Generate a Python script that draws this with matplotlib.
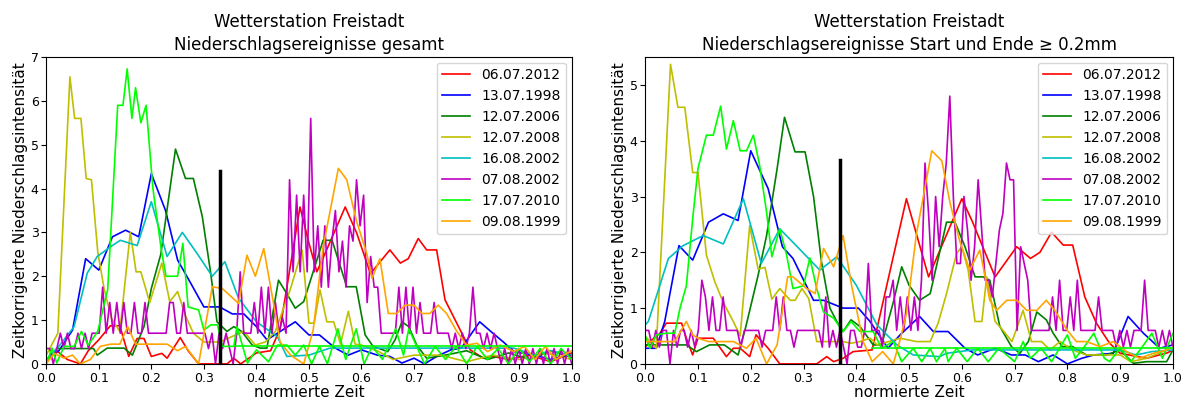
import numpy as np
import matplotlib
matplotlib.use("Agg")
import matplotlib.pyplot as plt

# --- event labels and colours (same order in both panels) ---
events = ["06.07.2012", "13.07.1998", "12.07.2006", "12.07.2008",
          "16.08.2002", "07.08.2002", "17.07.2010", "09.08.1999"]
colors = ["red", "blue", "green", "y", "c", "m", "lime", "orange"]

# ================= left panel: all events =================
l_red_x = [0, 0.02, 0.04, 0.065, 0.08, 0.1, 0.122, 0.14, 0.157, 0.173, 0.186, 0.2, 0.22, 0.23, 0.255,
           0.27, 0.29, 0.344, 0.357, 0.37, 0.4, 0.427, 0.445, 0.483, 0.499, 0.515, 0.53, 0.569, 0.591,
           0.617, 0.654, 0.674, 0.689, 0.708, 0.724, 0.743, 0.759, 0.788, 0.807, 0.832, 0.85, 0.88,
           0.92, 0.96, 1.0]
l_red_y = [0.1, 0.3, 0.1, 0.0, 0.3, 0.55, 0.87, 0.87, 0.17, 0.58, 0.58, 0.17, 0.24, 0.13, 0.6,
           0.3, 0.0, 0.0, 0.13, 0.0, 0.25, 0.3, 0.8, 3.58, 2.8, 2.1, 2.5, 3.58, 2.98,
           2.06, 2.6, 2.3, 2.4, 2.86, 2.6, 2.6, 1.46, 0.77, 0.32, 0.13, 0.17, 0.1,
           0.2, 0.05, 0.25]

l_blue_x = [0, 0.024, 0.05, 0.075, 0.1, 0.126, 0.151, 0.176, 0.2, 0.227, 0.25, 0.275, 0.3, 0.33,
            0.354, 0.376, 0.4, 0.42, 0.44, 0.474, 0.5, 0.52, 0.55, 0.575, 0.6, 0.63, 0.654, 0.677,
            0.7, 0.72, 0.743, 0.77, 0.79, 0.825, 0.85, 0.87, 0.89, 0.93, 0.96, 1.0]
l_blue_y = [0.1, 0.3, 0.77, 2.4, 2.14, 2.9, 3.05, 2.9, 4.34, 3.5, 2.37, 1.84, 1.3, 1.3,
            1.14, 1.14, 0.85, 0.55, 0.7, 0.96, 0.66, 0.66, 0.36, 0.2, 0.32, 0.2, 0.17, 0.02,
            0.13, 0.0, 0.17, 0.32, 0.36, 0.96, 0.7, 0.5, 0.28, 0.2, 0.1, 0.2]

l_dgreen_x = [0, 0.02, 0.09, 0.097, 0.116, 0.148, 0.164, 0.186, 0.2, 0.218, 0.246, 0.265, 0.28,
              0.297, 0.313, 0.325, 0.344, 0.357, 0.372, 0.392, 0.407, 0.42, 0.442, 0.458, 0.474,
              0.49, 0.527, 0.544, 0.572, 0.59, 0.607, 0.622, 0.65, 0.664, 0.677, 0.69, 0.705,
              0.724, 0.76, 0.8, 0.84, 0.88, 0.92, 0.96, 1.0]
l_dgreen_y = [0.05, 0.35, 0.35, 0.2, 0.36, 0.36, 0.2, 0.85, 1.72, 2.5, 4.9, 4.23, 4.23,
              3.36, 2.07, 0.96, 0.74, 0.85, 0.74, 0.43, 0.36, 0.36, 1.91, 1.6, 1.27,
              1.42, 2.82, 2.82, 1.76, 1.76, 0.66, 0.4, 0.28, 0.55, 0.96, 0.85, 0.43,
              0.13, 0.2, 0.3, 0.1, 0.25, 0.1, 0.3, 0.15]

l_olive_x = [0.0, 0.022, 0.045, 0.054, 0.066, 0.076, 0.086, 0.098, 0.11, 0.124, 0.14, 0.16, 0.171,
             0.18, 0.197, 0.22, 0.235, 0.25, 0.265, 0.28, 0.3, 0.33, 0.376, 0.398, 0.417, 0.436,
             0.465, 0.487, 0.5, 0.51, 0.521, 0.534, 0.547, 0.56, 0.575, 0.588, 0.6, 0.63, 0.66,
             0.7, 0.75, 0.8, 0.85, 0.9, 0.95, 1.0]
l_olive_y = [0.2, 0.7, 6.55, 5.6, 5.6, 4.23, 4.2, 2.56, 1.72, 1.04, 0.74, 3.0, 2.1,
             2.1, 1.4, 2.3, 1.42, 1.65, 1.1, 0.7, 0.5, 0.5, 0.74, 0.43, 0.5, 0.74,
             1.72, 2.6, 0.93, 0.93, 1.69, 0.96, 0.96, 0.45, 1.2, 0.45, 0.43, 0.3, 0.1,
             0.2, 0.2, 0.05, 0.2, 0.1, 0.25, 0.1]

l_cyan_x = [0, 0.024, 0.053, 0.078, 0.097, 0.122, 0.141, 0.173, 0.2, 0.23, 0.259, 0.287, 0.316,
            0.34, 0.366, 0.4, 0.44, 0.458, 0.5, 0.54, 0.6, 0.7, 0.8, 0.89, 0.93, 0.96, 1.0]
l_cyan_y = [0.1, 0.4, 0.85, 2.07, 2.45, 2.67, 2.82, 2.7, 3.7, 2.45, 3.0, 2.52, 2.0,
            2.33, 1.5, 0.96, 0.62, 0.17, 0.2, 0.36, 0.36, 0.36, 0.36, 0.36, 0.2, 0.3, 0.2]

# 07.08.2002 is sampled on a fine, even time grid
l_mag_y = [0.35, 0.35, 0, 0.35, 0.7, 0.35, 0.7, 0.35, 0.35, 0.7, 0.35, 0.7, 0.35, 0.7, 0.7,
           0.7, 1.75, 0.7, 1.4, 0.7, 1.4, 0.7, 1.4, 0.7, 0.7, 1.4, 0.7, 0.7, 1.4, 0.7,
           0.7, 0.7, 0.7, 0.7, 0.7, 1.4, 1.4, 0.7, 0.7, 1.4, 0.7, 0.7, 0.7, 0.7, 0.7,
           0.7, 0.35, 0.7, 0, 0.7, 0.35, 0.7, 0.35, 0, 0.7, 2.1, 0.7, 0.7, 0.7, 1.4,
           0.7, 1.75, 0.7, 1.75, 0.7, 1.4, 0.7, 1.05, 0.7, 4.2, 2.1, 3.85, 2.1, 3.85, 2.1,
           5.6, 2.1, 3.15, 1.75, 3.15, 1.75, 2.8, 3.5, 2.1, 2.8, 1.75, 3.15, 2.8, 4.2, 3.15,
           3.85, 1.4, 2.45, 1.75, 1.75, 0.7, 0.7, 0.7, 0.7, 0.7, 1.75, 0.7, 1.75, 0.7, 1.75,
           0.7, 1.4, 0.7, 0.7, 0.7, 1.4, 0.7, 0.7, 0.7, 0.7, 0.35, 0.7, 0.35, 0.7, 0.35,
           0.7, 1.75, 0.7, 0.7, 0.35, 0.7, 0.35, 0.7, 0.35, 0, 0.35, 0, 0.35, 0, 0.35,
           0, 0.35, 0, 0.35, 0, 0.35, 0, 0.35, 0, 0.35, 0, 0.35, 0, 0.35, 0]

l_lime_x = [0, 0.011, 0.02, 0.034, 0.053, 0.067, 0.08, 0.098, 0.117, 0.136, 0.146, 0.154, 0.163,
            0.17, 0.18, 0.19, 0.203, 0.219, 0.228, 0.235, 0.25, 0.26, 0.27, 0.29, 0.3, 0.313,
            0.326, 0.335, 0.357, 0.363, 0.383, 0.4, 0.423, 0.44, 0.458, 0.474, 0.49, 0.505,
            0.52, 0.535, 0.555, 0.57, 0.59, 0.605, 0.62, 0.64, 0.665, 0.68, 0.69, 0.705,
            0.72, 0.74, 0.76, 0.78, 0.8, 0.82, 0.84, 0.86, 0.88, 0.9, 0.92, 0.94, 0.96, 0.98, 1.0]
l_lime_y = [0.0, 0.36, 0.02, 0.4, 0.4, 0.74, 0.43, 0.74, 1.7, 5.9, 5.9, 6.73, 5.6,
            6.3, 5.5, 5.9, 4.0, 2.6, 2.0, 2.0, 2.0, 2.75, 1.3, 1.23, 0.77, 0.89,
            0.89, 0.4, 0.4, 0.85, 0.02, 0.32, 0.05, 0.43, 0.43, 0.2, 0.43, 0.0,
            0.4, 0.0, 0.8, 0.1, 0.8, 0.0, 0.4, 0.1, 0.8, 0.2, 0.8, 0.4,
            0.0, 0.4, 0.1, 0.4, 0.0, 0.4, 0.1, 0.35, 0.0, 0.35, 0.05, 0.35, 0.0, 0.35, 0.1]
l_lime_tail_x = [0.36, 1.0]
l_lime_tail_y = [0.4, 0.4]

l_orange_x = [0, 0.015, 0.034, 0.05, 0.065, 0.084, 0.103, 0.122, 0.14, 0.155, 0.17, 0.185, 0.23,
              0.25, 0.265, 0.29, 0.316, 0.335, 0.366, 0.382, 0.398, 0.414, 0.432, 0.445, 0.465,
              0.49, 0.508, 0.527, 0.556, 0.572, 0.59, 0.61, 0.62, 0.635, 0.651, 0.667, 0.683,
              0.7, 0.715, 0.73, 0.746, 0.762, 0.78, 0.8, 0.82, 0.84, 0.864, 0.89, 0.91, 0.93,
              0.95, 0.97, 1.0]
l_orange_y = [0.0, 0.24, 0.13, 0.2, 0.0, 0.1, 0.4, 0.45, 0.45, 0.85, 0.45, 0.45, 0.45,
              0.3, 0.4, 0.0, 1.76, 1.72, 1.38, 2.48, 2.0, 2.63, 1.42, 0.5, 0.2,
              0.0, 0.77, 2.67, 4.46, 4.2, 3.28, 2.52, 1.95, 2.4, 1.15, 1.15, 1.34,
              1.34, 1.15, 1.15, 1.34, 1.15, 0.77, 0.43, 0.47, 0.28, 0.43, 0.28, 0.4, 0.1,
              0.4, 0.1, 0.3]

l_marker_x = 0.33
l_marker_top = 4.4

# ================= right panel: start and end >= 0.2 mm =================
r_red_x = [0, 0.009, 0.028, 0.04, 0.069, 0.078, 0.09, 0.1, 0.129, 0.154, 0.167, 0.18, 0.198, 0.21,
           0.233, 0.255, 0.325, 0.344, 0.357, 0.375, 0.394, 0.43, 0.495, 0.537, 0.6, 0.62, 0.663,
           0.704, 0.73, 0.748, 0.77, 0.792, 0.81, 0.833, 0.855, 0.88, 0.9, 0.95, 0.99, 1.0]
r_red_y = [0.3, 0.4, 0.55, 0.73, 0.73, 0.46, 0.16, 0.46, 0.46, 0.13, 0.28, 0.28, 0.13, 0.52,
           0.28, 0.0, 0.0, 0.13, 0.04, 0.1, 0.22, 0.25, 2.96, 1.56, 2.96, 2.55, 1.56,
           2.1, 1.89, 2.0, 2.36, 2.13, 2.13, 1.2, 0.73, 0.37, 0.19, 0.1, 0.2, 0.25]

r_blue_x = [0, 0.021, 0.037, 0.064, 0.09, 0.12, 0.148, 0.176, 0.2, 0.233, 0.26, 0.28, 0.319, 0.338,
            0.375, 0.404, 0.426, 0.46, 0.483, 0.52, 0.546, 0.574, 0.606, 0.63, 0.663, 0.694, 0.72,
            0.745, 0.773, 0.8, 0.827, 0.85, 0.887, 0.915, 0.944, 0.975, 1.0]
r_blue_y = [0.28, 0.28, 0.76, 2.12, 1.86, 2.54, 2.69, 2.57, 3.82, 3.14, 2.1, 1.89, 1.14, 1.14,
            1.0, 1.0, 0.76, 0.28, 0.52, 0.85, 0.58, 0.58, 0.28, 0.16, 0.28, 0.16, 0.16,
            0.04, 0.16, 0.0, 0.1, 0.16, 0.19, 0.85, 0.55, 0.28, 0.34]

r_dgreen_x = [0, 0.078, 0.097, 0.122, 0.15, 0.176, 0.19, 0.214, 0.23, 0.25, 0.264, 0.284, 0.303,
              0.319, 0.334, 0.35, 0.363, 0.375, 0.39, 0.407, 0.423, 0.432, 0.448, 0.47, 0.486,
              0.5, 0.52, 0.54, 0.571, 0.587, 0.606, 0.625, 0.64, 0.653, 0.672, 0.694, 0.71,
              0.726, 0.742, 0.76, 0.773, 0.79, 0.81, 0.836, 0.874, 0.9, 0.925, 0.95, 0.988, 1.0]
r_dgreen_y = [0.34, 0.34, 0.22, 0.34, 0.34, 0.16, 0.64, 1.59, 2.3, 3.5, 4.42, 3.8, 3.8,
              3.0, 1.83, 1.0, 0.76, 0.58, 0.79, 0.67, 0.46, 0.34, 0.34, 1.1, 1.74,
              1.41, 1.14, 1.26, 2.54, 2.54, 2.1, 1.56, 1.56, 1.5, 0.67, 0.31, 0.19,
              0.4, 0.93, 0.79, 0.55, 0.31, 0.31, 0.16, 0.16, 0.25, 0.01, 0.04, 0.04, 0.25]

r_olive_x = [0, 0.009, 0.021, 0.048, 0.062, 0.075, 0.09, 0.1, 0.116, 0.132, 0.148, 0.167, 0.18,
             0.198, 0.214, 0.227, 0.24, 0.255, 0.275, 0.284, 0.297, 0.31, 0.325, 0.375, 0.39,
             0.407, 0.426, 0.44, 0.483, 0.514, 0.54, 0.555, 0.571, 0.59, 0.6, 0.612, 0.625,
             0.638, 0.647, 0.663, 0.678, 0.695, 0.716, 0.732, 0.751, 0.767, 0.786, 0.81, 0.836,
             0.9, 0.92, 0.95, 0.988, 1.0]
r_olive_y = [0.5, 0.4, 0.28, 5.37, 4.6, 4.6, 3.43, 3.43, 1.95, 1.47, 1.1, 0.76, 0.5,
             2.48, 1.7, 1.73, 1.16, 1.35, 1.14, 1.14, 1.35, 1.17, 0.4, 0.4, 0.37,
             0.4, 0.46, 0.34, 0.46, 0.4, 0.4, 0.73, 1.26, 1.98, 2.1, 1.68, 0.76,
             0.76, 1.56, 0.76, 0.6, 0.4, 0.96, 0.4, 0.4, 0.25, 0.4, 0.25, 0.16,
             0.16, 0.04, 0.1, 0.25, 0.3]

r_cyan_x = [0, 0.006, 0.044, 0.072, 0.11, 0.148, 0.186, 0.22, 0.255, 0.28, 0.331, 0.363, 0.4,
            0.439, 0.477, 0.508, 0.558, 0.571, 0.62, 0.7, 0.8, 0.9, 0.93, 0.96, 1.0]
r_cyan_y = [0.7, 0.76, 1.89, 2.12, 2.3, 2.15, 2.96, 1.8, 2.42, 2.18, 1.68, 1.92, 1.41,
            0.7, 0.34, 0.16, 0.13, 0.19, 0.25, 0.25, 0.25, 0.25, 0.16, 0.22, 0.25]

r_mag_y = [0.6, 0.6, 0.3, 0.6, 0.3, 0.6, 0.6, 0, 0.6, 0.3, 0.6, 0.6, 0.3, 0.6, 0.3,
           0.6, 1.5, 1.2, 0.6, 1.2, 0.6, 0.6, 1.2, 0.6, 0.6, 0.6, 0.6, 0.3, 0.6, 0.6,
           0.6, 0.6, 0.6, 0.3, 0.6, 0.6, 0.6, 1.2, 0.6, 1.2, 0.6, 0.6, 0.3, 0.6, 0.6,
           0.6, 0.6, 0.6, 0.6, 0.6, 0.3, 1.2, 0.3, 0.6, 0.3, 0.6, 0.3, 0, 0.6, 0.6,
           0.3, 0.3, 0.6, 1.8, 0.6, 0.6, 0.6, 0.3, 1.2, 1.2, 1.5, 0.6, 1.2, 0.6, 1.2,
           0.6, 1.2, 0.6, 1.5, 3.6, 2.7, 1.5, 3.0, 2.1, 3.0, 3.6, 4.8, 3.0, 1.8, 1.8,
           3.0, 2.4, 1.5, 2.1, 3.3, 2.4, 1.5, 1.5, 1.2, 1.8, 2.4, 2.7, 3.6, 3.3, 3.3,
           0.6, 2.1, 1.8, 1.5, 0.6, 0.6, 0.6, 0.6, 0.6, 0.6, 1.2, 0.6, 1.5, 0.6, 0.6,
           1.2, 0.6, 1.5, 0.6, 0.6, 0.6, 0.6, 0.6, 1.2, 0.6, 0.6, 0.6, 0.6, 0.3, 0.6,
           0.3, 0.6, 0.3, 0.6, 0.6, 0.6, 1.5, 0.6, 0.6, 0.6, 0.3, 0.6, 0.3, 0.6, 0.3]

r_lime_x = [0, 0.009, 0.021, 0.04, 0.056, 0.066, 0.078, 0.09, 0.1, 0.116, 0.129, 0.143, 0.154,
            0.167, 0.18, 0.192, 0.205, 0.217, 0.23, 0.24, 0.255, 0.268, 0.28, 0.3, 0.312, 0.325,
            0.338, 0.357, 0.375, 0.39, 0.407, 0.432, 0.448, 0.47, 0.486, 0.508, 0.524, 0.54,
            0.552, 0.568, 0.574, 0.59, 0.61, 0.63, 0.65, 0.67, 0.7, 0.716, 0.73, 0.75, 0.77,
            0.8, 0.815, 0.83, 0.85, 0.87, 0.88, 0.9, 0.92, 0.94, 0.96, 0.98, 1.0]
r_lime_y = [0.5, 0.28, 0.52, 0.55, 0.55, 1.0, 1.4, 2.6, 3.5, 4.1, 4.1, 4.62, 3.85,
            4.36, 3.82, 3.82, 4.1, 3.55, 2.72, 1.92, 2.42, 1.95, 1.35, 1.4, 1.9, 1.35,
            0.93, 0.82, 0.58, 0.76, 0.58, 0.58, 0.28, 0.4, 0.04, 0.28, 0.04, 0.28,
            0.04, 0.28, 0.04, 0.28, 0.04, 0.28, 0.04, 0.28, 0.04, 0.4, 0.1, 0.28, 0.04,
            0.52, 0.1, 0.28, 0.55, 0.1, 0.04, 0.28, 0.04, 0.28, 0.55, 0.1, 0.55]
r_lime_tail_x = [0.43, 1.0]
r_lime_tail_y = [0.28, 0.28]

r_orange_x = [0, 0.034, 0.056, 0.078, 0.09, 0.1, 0.12, 0.167, 0.192, 0.21, 0.23, 0.25, 0.27, 0.28,
              0.306, 0.322, 0.338, 0.357, 0.375, 0.391, 0.413, 0.43, 0.45, 0.47, 0.483, 0.495,
              0.514, 0.543, 0.562, 0.578, 0.596, 0.615, 0.634, 0.653, 0.666, 0.685, 0.704,
              0.723, 0.742, 0.76, 0.776, 0.8, 0.817, 0.836, 0.862, 0.887, 0.912, 0.937,
              0.963, 0.988, 1.0]
r_orange_y = [0.4, 0.4, 0.4, 0.76, 0.52, 0.46, 0.4, 0.4, 0.28, 0.46, 0.0, 0.34, 1.56, 1.56,
              1.35, 1.26, 2.07, 1.74, 2.3, 1.41, 0.4, 0.04, 0.22, 0.0, 0.43, 0.9,
              2.33, 3.82, 3.64, 2.87, 2.2, 1.68, 2.04, 1.14, 0.96, 1.14, 1.14,
              0.96, 0.96, 1.14, 0.96, 0.6, 0.4, 0.4, 0.31, 0.4, 0.22, 0.1,
              0.19, 0.25, 0.3]

r_marker_x = 0.37
r_marker_top = 3.65


def draw_panel(ax, series, tail, marker_x, marker_top, title, ymax, yticks):
    for (x, y), name, col in zip(series, events, colors):
        ax.plot(x, y, color=col, lw=1.2, label=name)
    # trailing constant stretch of the 17.07.2010 record
    ax.plot(tail[0], tail[1], color="lime", lw=1.2)
    ax.plot([marker_x, marker_x], [0, marker_top], color="black", lw=2.5)
    ax.set_xlim(0, 1)
    ax.set_ylim(0, ymax)
    ax.set_xticks(np.arange(0, 1.01, 0.1))
    ax.set_yticks(yticks)
    ax.tick_params(labelsize=9, pad=2)
    ax.set_xlabel("normierte Zeit", fontsize=11, labelpad=0)
    ax.set_ylabel("Zeitkorrigierte Niederschlagsintensität", fontsize=11, labelpad=2)
    ax.set_title(title, fontsize=12, linespacing=1.4, pad=5)
    ax.legend(loc="upper right", fontsize=10, handlelength=2.0, borderaxespad=0.4)


fig = plt.figure(figsize=(11.86, 3.99), dpi=100)
ax1 = fig.add_axes([0.039, 0.088, 0.443, 0.769])
ax2 = fig.add_axes([0.544, 0.088, 0.445, 0.769])

mag_x = np.linspace(0, 1, len(l_mag_y))
left_series = [(l_red_x, l_red_y), (l_blue_x, l_blue_y), (l_dgreen_x, l_dgreen_y),
               (l_olive_x, l_olive_y), (l_cyan_x, l_cyan_y), (mag_x, l_mag_y),
               (l_lime_x, l_lime_y), (l_orange_x, l_orange_y)]
mag_x_r = np.linspace(0, 1, len(r_mag_y))
right_series = [(r_red_x, r_red_y), (r_blue_x, r_blue_y), (r_dgreen_x, r_dgreen_y),
                (r_olive_x, r_olive_y), (r_cyan_x, r_cyan_y), (mag_x_r, r_mag_y),
                (r_lime_x, r_lime_y), (r_orange_x, r_orange_y)]

draw_panel(ax1, left_series, (l_lime_tail_x, l_lime_tail_y), l_marker_x, l_marker_top,
           "Wetterstation Freistadt\nNiederschlagsereignisse gesamt", 7, range(0, 8))
draw_panel(ax2, right_series, (r_lime_tail_x, r_lime_tail_y), r_marker_x, r_marker_top,
           "Wetterstation Freistadt\nNiederschlagsereignisse Start und Ende \u2265 0.2mm", 5.5,
           range(0, 6))

fig.savefig("out.png", dpi=100)
